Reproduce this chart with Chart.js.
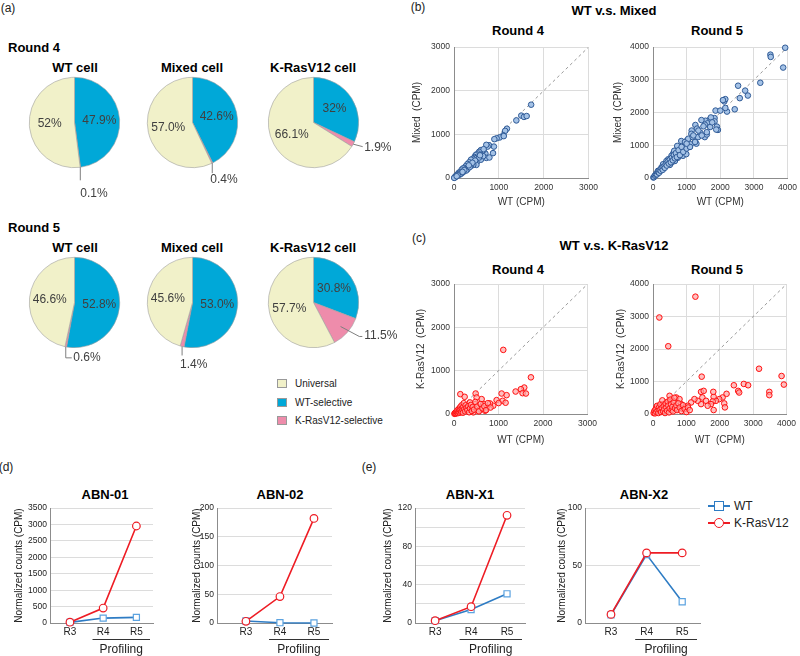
<!DOCTYPE html>
<html>
<head>
<meta charset="utf-8">
<script src="https://cdn.jsdelivr.net/npm/chart.js@4.4.0/dist/chart.umd.min.js"></script>
<style>
  body { margin: 0; width: 800px; height: 656px; position: relative; overflow: hidden; background: #fff;
         font-family: "Liberation Sans", Arial, sans-serif; color: #000; }
  canvas { position: absolute; }
  .c { position: absolute; white-space: nowrap; line-height: 1; transform: translate(-50%, -50%); }
  .l { position: absolute; white-space: nowrap; line-height: 1; transform: translateY(-50%); }
  .b { font-weight: bold; font-size: 13px; }
  .p { font-size: 12px; color: #222; }
  .box { position: absolute; width: 10px; height: 9px; border: 1px solid #999; box-sizing: border-box; }
</style>
</head>
<body>

<!-- panel labels and headings -->
<div class="c p" style="left:8px;top:8px">(a)</div>
<div class="c p" style="left:418px;top:7px">(b)</div>
<div class="c p" style="left:419px;top:238px">(c)</div>
<div class="c p" style="left:6px;top:467px">(d)</div>
<div class="c p" style="left:369px;top:467px">(e)</div>

<div class="l b" style="left:8px;top:47px">Round 4</div>
<div class="c b" style="left:75px;top:67px">WT cell</div>
<div class="c b" style="left:192px;top:67px">Mixed cell</div>
<div class="c b" style="left:313px;top:67px">K-RasV12 cell</div>
<div class="l b" style="left:8px;top:227px">Round 5</div>
<div class="c b" style="left:75px;top:247px">WT cell</div>
<div class="c b" style="left:192px;top:247px">Mixed cell</div>
<div class="c b" style="left:313px;top:247px">K-RasV12 cell</div>

<div class="box" style="left:277px;top:379px;background:#f1f1c9"></div>
<div class="l" style="left:295px;top:384px;font-size:10px;color:#222">Universal</div>
<div class="box" style="left:277px;top:398px;background:#00a8d8"></div>
<div class="l" style="left:295px;top:403px;font-size:10px;color:#222">WT-selective</div>
<div class="box" style="left:277px;top:416px;background:#ee8cab"></div>
<div class="l" style="left:295px;top:421px;font-size:10px;color:#222">K-RasV12-selective</div>

<div class="c b" style="left:614px;top:10px">WT v.s. Mixed</div>
<div class="c b" style="left:518px;top:30px">Round 4</div>
<div class="c b" style="left:717px;top:30px">Round 5</div>
<div class="c b" style="left:614px;top:245px">WT v.s. K-RasV12</div>
<div class="c b" style="left:518px;top:269px">Round 4</div>
<div class="c b" style="left:717px;top:269px">Round 5</div>

<div class="c b" style="left:105px;top:494px">ABN-01</div>
<div class="c b" style="left:280px;top:494px">ABN-02</div>
<div class="c b" style="left:470px;top:494px">ABN-X1</div>
<div class="c b" style="left:644px;top:494px">ABN-X2</div>

<!-- legend (e) -->
<div style="position:absolute;left:708px;top:505px;width:22px;height:2px;background:#2e7cc4"></div>
<div style="position:absolute;left:714px;top:501px;width:10px;height:10px;box-sizing:border-box;border:1.5px solid #2e7cc4;background:#fff"></div>
<div class="l" style="left:734px;top:506px;font-size:12px;color:#222">WT</div>
<div style="position:absolute;left:708px;top:522px;width:22px;height:2px;background:#ee1c24"></div>
<div style="position:absolute;left:714px;top:518px;width:10px;height:10px;box-sizing:border-box;border:1.5px solid #ee1c24;border-radius:50%;background:#fff"></div>
<div class="l" style="left:734px;top:523px;font-size:12px;color:#222">K-RasV12</div>

<canvas id="p1"></canvas><canvas id="p2"></canvas><canvas id="p3"></canvas>
<canvas id="p4"></canvas><canvas id="p5"></canvas><canvas id="p6"></canvas>
<canvas id="s1"></canvas><canvas id="s2"></canvas><canvas id="s3"></canvas><canvas id="s4"></canvas>
<canvas id="l1"></canvas><canvas id="l2"></canvas><canvas id="l3"></canvas><canvas id="l4"></canvas>

<script>
// ---- data ----
const pieLabels = ['WT-selective', 'K-RasV12-selective', 'Universal'];
const pieR4WT = ['47.9', '0.1', '52'];
const pieR4Mixed = ['42.6', '0.4', '57.0'];
const pieR4KRas = ['32', '1.9', '66.1'];
const pieR5WT = ['52.8', '0.6', '46.6'];
const pieR5Mixed = ['53.0', '1.4', '45.6'];
const pieR5KRas = ['30.8', '11.5', '57.7'];

// WT (x) vs Mixed (y), CPM
const mixedR4 = [[1720,1680],[1500,1430],[1560,1400],[1620,1420],[1390,1320],[1180,1130],[1140,1080],[1100,980],
  [1020,930],[950,910],[1110,960],[890,720],[900,890],[870,570],[780,750],[750,720],[720,760],[700,560],[720,460],
  [790,470],[660,640],[620,600],[600,640],[560,600],[540,560],[520,500],[500,540],[480,520],[460,480],[520,380],
  [500,300],[450,460],[420,440],[400,380],[380,420],[360,330],[340,360],[320,300],[300,320],[280,260],[260,270],
  [250,200],[240,230],[220,210],[200,220],[180,160],[170,190],[150,140],[140,120],[120,130],[110,90],[100,110],
  [90,80],[80,70],[70,75],[60,50],[50,55],[40,30],[30,35],[20,15],[10,10],[5,3],[600,420],[650,500],[560,470],
  [430,300],[380,280],[300,200],[270,170],[350,250],[200,130],[160,100],[130,80],[660,660],[580,520],[470,400],
  [410,350],[330,290],[230,180],[190,140],[90,60],[60,40]];
const mixedR5 = [[3930,3980],[3490,3770],[3500,3700],[3870,3375],[3190,2910],[2820,2520],[2740,2670],[2580,2440],
  [2530,2820],[2430,2100],[2200,2030],[2150,2140],[2120,2340],[2150,2410],[2080,2380],[1860,2060],[2000,2060],
  [1900,1570],[1930,1470],[1830,1830],[1830,1730],[1670,1770],[1720,1850],[1560,1750],[1620,1670],[1440,1770],
  [1540,1630],[1260,1620],[1310,1510],[1150,1450],[1140,1350],[1340,1250],[1540,1250],[1600,1330],[1410,1380],
  [1020,1160],[1120,1030],[970,1040],[1290,1050],[840,1130],[940,930],[740,930],[700,830],[600,750],[550,680],
  [450,570],[400,520],[300,420],[250,320],[150,220],[100,140],[50,70],[840,830],[790,730],[740,620],[650,520],
  [550,470],[500,400],[890,680],[990,730],[630,830],[720,980],[10,15],[30,25],[60,70],[90,100],[120,110],
  [150,180],[180,160],[200,240],[230,220],[260,300],[290,250],[320,350],[350,310],[380,420],[410,380],[440,500],
  [470,440],[500,560],[530,480],[560,620],[590,540],[620,700],[650,600],[680,760],[710,640],[760,850],[800,700],
  [850,950],[900,800],[950,1100],[1000,900],[1050,1200],[1100,950],[1180,1250],[1250,1100],[1350,1450],
  [1450,1300],[1500,1580],[1600,1400],[1700,1560],[1760,1700],[1880,1480],[1200,1300],[1000,1050]];

// WT (x) vs K-RasV12 (y), CPM
const krasR4 = [[1107,1481],[1728,847],[1578,611],[1503,573],[1540,481],[1615,473],[1384,519],[1070,473],
  [1182,435],[1092,305],[1159,260],[957,321],[1002,252],[142,458],[239,397],[486,473],[882,191],[808,244],
  [733,153],[658,229],[621,344],[583,115],[508,382],[471,229],[359,267],[322,153],[284,92],[209,115],[135,76],
  [60,38],[22,15],[396,115],[434,38],[546,76],[696,76],[10,5],[20,20],[30,10],[40,40],[50,15],[60,60],[70,30],
  [80,90],[90,20],[100,50],[110,120],[120,70],[130,30],[140,160],[150,100],[160,50],[170,200],[180,130],[190,80],
  [200,30],[210,170],[220,250],[230,110],[250,60],[260,200],[280,140],[300,90],[320,180],[340,40],[360,130],
  [380,210],[400,70],[420,160],[450,100],[480,280],[520,170],[560,60],[600,230],[640,130],[680,180],[720,90],
  [760,250],[820,150]];
const krasR5 = [[1270,3613],[189,2972],[457,2087],[3176,1394],[3851,1170],[3920,906],[3484,682],[3484,580],
  [2720,926],[2849,885],[2551,712],[2581,662],[2422,885],[1459,1150],[2203,621],[2084,509],[1985,458],[1886,407],
  [1816,529],[1787,387],[1737,305],[1816,122],[2134,326],[2154,204],[1806,682],[1439,682],[1518,712],[1479,509],
  [1588,407],[1638,254],[1439,305],[1340,407],[1241,458],[1141,356],[1042,254],[943,204],[496,560],[695,509],
  [794,458],[596,407],[397,356],[298,305],[199,254],[99,204],[50,102],[149,122],[248,153],[844,305],[893,153],
  [744,153],[546,153],[447,183],[20,30],[40,80],[60,20],[80,150],[100,60],[120,250],[140,100],[160,30],[180,200],
  [200,120],[220,300],[240,60],[260,180],[280,420],[300,90],[320,240],[340,150],[360,30],[380,320],[400,200],
  [420,100],[440,380],[460,260],[480,50],[500,170],[520,440],[540,300],[560,120],[580,220],[600,80],[620,360],
  [640,500],[660,180],[700,260],[720,120],[760,330],[800,200],[850,90],[900,270],[950,150],[1000,60],[1050,200],
  [1100,120]];

// profiling line charts
const rounds = ['R3', 'R4', 'R5'];
const abn01WT = [20, 150, 170];
const abn01KRas = [25, 455, 2955];
const abn02WT = [3.5, 0.5, 0];
const abn02KRas = [3, 46, 182];
const abnX1WT = [2.4, 14, 30.5];
const abnX1KRas = [2.4, 17, 112.5];
const abnX2WT = [7, 59.5, 18.5];
const abnX2KRas = [7.5, 61, 61];
const x1TickLabels = [0, 40, 80, 120];

// ---- common defaults ----
Chart.defaults.font.family = '"Liberation Sans", Arial, sans-serif';
Chart.defaults.color = '#222';
Chart.defaults.animation = false;
Chart.defaults.events = [];
Chart.defaults.plugins.legend.display = false;
Chart.defaults.plugins.tooltip.enabled = false;

const PIE_COLORS = ['#00a8d8', '#ee8cab', '#f1f1c9'];

// text in the slices, and the leader line for the small pink slice
const pieTextPlugin = {
  id: 'pieText',
  afterDatasetsDraw(chart, args, opts) {
    const ctx = chart.ctx;
    const arcs = chart.getDatasetMeta(0).data;
    ctx.save();
    ctx.font = '12px "Liberation Sans", Arial, sans-serif';
    ctx.fillStyle = '#404040';
    ctx.textBaseline = 'middle';
    arcs.forEach((a, i) => {
      const mid = (a.startAngle + a.endAngle) / 2;
      const R = a.outerRadius;
      const cs = Math.cos(mid), sn = Math.sin(mid);
      const label = opts.texts[i] + '%';
      if (i !== 1) {
        ctx.textAlign = 'center';
        ctx.fillText(label, a.x + cs * R * 0.55, a.y + sn * R * 0.55);
        return;
      }
      const L = opts.leader;
      const ex = a.x + cs * R, ey = a.y + sn * R;
      ctx.strokeStyle = '#7f7f7f';
      ctx.lineWidth = 1;
      ctx.beginPath();
      ctx.moveTo(a.x + cs * R * L.r0, a.y + sn * R * L.r0);
      L.pts.forEach(p => ctx.lineTo(ex + p[0], ey + p[1]));
      ctx.stroke();
      ctx.textAlign = 'left';
      ctx.fillText(label, ex + L.text[0], ey + L.text[1]);
    });
    ctx.restore();
  }
};

function pie(id, cx, cy, vals, leader) {
  const c = document.getElementById(id);
  c.width = 200; c.height = 150;
  c.style.left = (cx - 100.5) + 'px';
  c.style.top = (cy - 70.5) + 'px';
  new Chart(c, {
    type: 'pie',
    data: {
      labels: pieLabels,
      datasets: [{ data: vals.map(Number), backgroundColor: PIE_COLORS, borderColor: '#a0a0a0', borderWidth: 0.6 }]
    },
    options: {
      responsive: false,
      layout: { padding: { left: 55, right: 54, top: 25, bottom: 34 } },
      plugins: { pieText: { texts: vals, leader } }
    },
    plugins: [pieTextPlugin]
  });
}

pie('p1', 74, 122, pieR4WT, { r0: 1, pts: [[0, 0], [0, 13]], text: [0, 26] });
pie('p2', 192, 122, pieR4Mixed, { r0: 1, pts: [[0, 0], [0, 10]], text: [-2, 17] });
pie('p3', 313, 122, pieR4KRas, { r0: 1, pts: [[0, 0], [9.5, 2.5]], text: [11, 3.5] });
pie('p4', 74, 302, pieR5WT, { r0: 1, pts: [[0, 0], [0, 11], [6, 11]], text: [7.5, 11] });
pie('p5', 192, 302, pieR5Mixed, { r0: 1, pts: [[0, 0], [0, 9]], text: [-2, 18] });
pie('p6', 313, 302, pieR5KRas, { r0: 0.8, pts: [[12, 4], [15, 4]], text: [17, 3.5] });

// position a canvas so that its chart area lands on the given rectangle
function place(id, area, side) {
  const c = document.getElementById(id);
  const left = area.l - side.yw, top = area.t - side.top;
  c.width = area.r - left + side.right;
  c.height = area.b - top + side.xh;
  c.style.left = left + 'px';
  c.style.top = top + 'px';
  return c;
}

function scatter(id, area, pts, cfg) {
  const side = { yw: 50, xh: cfg.xh, top: 8, right: 13 };
  const c = place(id, area, side);
  const axis = (title, pad, fit) => ({
    type: 'linear', min: 0, max: cfg.max,
    ticks: { stepSize: 1000, callback: v => String(v), font: { size: 8.5 }, color: '#333', maxRotation: 0 },
    grid: { color: '#dcdcdc', drawTicks: false },
    border: { color: '#8c8c8c' },
    title: { display: true, text: title, font: { size: 10 }, color: '#333', padding: pad },
    afterFit: fit
  });
  const x = axis(cfg.xTitle, { top: 0, bottom: 2 }, s => { s.height = side.xh; });
  x.ticks.padding = 5;
  const y = axis(cfg.yTitle, { top: cfg.yTitleX - (area.l - side.yw) - 6, bottom: 0 }, s => { s.width = side.yw; });
  y.ticks.padding = 4;
  new Chart(c, {
    type: 'scatter',
    data: {
      datasets: [
        { data: pts.map(p => ({ x: p[0], y: p[1] })), pointRadius: 2.8, pointBorderWidth: 1,
          pointBackgroundColor: cfg.fill, pointBorderColor: cfg.edge, clip: false, order: 1 },
        { type: 'line', data: [{ x: 0, y: 0 }, { x: cfg.max, y: cfg.max }], borderColor: '#9a9a9a',
          borderWidth: 1, borderDash: [3, 3], pointRadius: 0, order: 2 }
      ]
    },
    options: { responsive: false, layout: { padding: { top: side.top, right: side.right } }, scales: { x, y } }
  });
}

const blue = { fill: '#a4c2e6', edge: '#2f5a96' };
const red = { fill: 'rgba(255,165,165,0.7)', edge: '#ff1010' };
scatter('s1', { l: 454, t: 46, r: 590, b: 178 }, mixedR4,
  { max: 3000, xTitle: 'WT (CPM)', yTitle: 'Mixed  (CPM)', yTitleX: 417, xh: 32, ...blue });
scatter('s2', { l: 653, t: 46, r: 789, b: 178 }, mixedR5,
  { max: 4000, xTitle: 'WT (CPM)', yTitle: 'Mixed  (CPM)', yTitleX: 618, xh: 32, ...blue });
scatter('s3', { l: 454, t: 283, r: 589, b: 414 }, krasR4,
  { max: 3000, xTitle: 'WT (CPM)', yTitle: 'K-RasV12  (CPM)', yTitleX: 421, xh: 34, ...red });
scatter('s4', { l: 653, t: 283, r: 788, b: 414 }, krasR5,
  { max: 4000, xTitle: 'WT  (CPM)', yTitle: 'K-RasV12  (CPM)', yTitleX: 621, xh: 34, ...red });

// "Profiling" bracket under R4-R5
const profilingPlugin = {
  id: 'profiling',
  afterDraw(chart) {
    const { ctx, chartArea, scales } = chart;
    const x0 = scales.x.getPixelForValue(0.68), x1 = chartArea.right - 3;
    const y = chartArea.bottom + 16;
    ctx.save();
    ctx.strokeStyle = '#333';
    ctx.lineWidth = 1;
    ctx.beginPath();
    ctx.moveTo(x0, y + 0.5);
    ctx.lineTo(x1, y + 0.5);
    ctx.stroke();
    ctx.fillStyle = '#222';
    ctx.font = '12px "Liberation Sans", Arial, sans-serif';
    ctx.textAlign = 'center';
    ctx.textBaseline = 'middle';
    ctx.fillText('Profiling', (x0 + x1) / 2, y + 11);
    ctx.restore();
  }
};

function lineChart(id, area, wt, kras, cfg) {
  const side = { yw: 45, xh: 36, top: 8, right: 6 };
  const c = place(id, area, side);
  const toPts = arr => arr.map((v, i) => ({ x: i, y: v }));
  new Chart(c, {
    type: 'line',
    data: {
      datasets: [
        { data: toPts(kras), borderColor: '#ee1c24', borderWidth: 1.6, pointStyle: 'circle', pointRadius: 3.8,
          pointBackgroundColor: '#fff', pointBorderColor: '#ee1c24', pointBorderWidth: 1.2, clip: false },
        { data: toPts(wt), borderColor: '#2e7cc4', borderWidth: 1.6, pointStyle: 'rect', pointRadius: 4.3,
          pointBackgroundColor: '#fff', pointBorderColor: '#5ca3e0', pointBorderWidth: 1.2, clip: false }
      ]
    },
    options: {
      responsive: false,
      layout: { padding: { top: side.top, right: side.right } },
      scales: {
        x: {
          type: 'linear', min: cfg.xmin, max: cfg.xmax,
          afterBuildTicks: s => { s.ticks = rounds.map((_, i) => ({ value: i })); },
          ticks: { callback: v => rounds[v], font: { size: 10 }, color: '#222', padding: 3, maxRotation: 0, autoSkip: false },
          grid: { display: false, drawTicks: false },
          border: { color: '#8c8c8c' },
          afterFit: s => { s.height = side.xh; }
        },
        y: {
          min: 0, max: cfg.ymax,
          ticks: { stepSize: cfg.step, callback: cfg.tick || (v => String(v)), font: { size: 8.5 }, color: '#222', padding: 3 },
          grid: { color: '#dcdcdc', drawTicks: false },
          border: { color: '#8c8c8c' },
          title: { display: true, text: 'Normalized counts (CPM)', font: { size: 10 }, color: '#222',
                   padding: { top: cfg.titleX - (area.l - side.yw) - 6, bottom: 0 } },
          afterFit: s => { s.width = side.yw; }
        }
      }
    },
    plugins: [profilingPlugin]
  });
}

lineChart('l1', { l: 50, t: 508, r: 153, b: 623 }, abn01WT, abn01KRas,
  { xmin: -0.6, xmax: 2.5, ymax: 3500, step: 500, titleX: 19 });
lineChart('l2', { l: 217, t: 508, r: 332, b: 623 }, abn02WT, abn02KRas,
  { xmin: -0.85, xmax: 2.53, ymax: 200, step: 50, titleX: 197 });
lineChart('l3', { l: 415, t: 508, r: 525, b: 623 }, abnX1WT, abnX1KRas,
  { xmin: -0.56, xmax: 2.5, ymax: 120, step: 20, titleX: 388,
    tick: v => (x1TickLabels.includes(v) ? String(v) : '') });
lineChart('l4', { l: 585, t: 508, r: 700, b: 623 }, abnX2WT, abnX2KRas,
  { xmin: -0.73, xmax: 2.5, ymax: 100, step: 50, titleX: 562 });
</script>
</body>
</html>
